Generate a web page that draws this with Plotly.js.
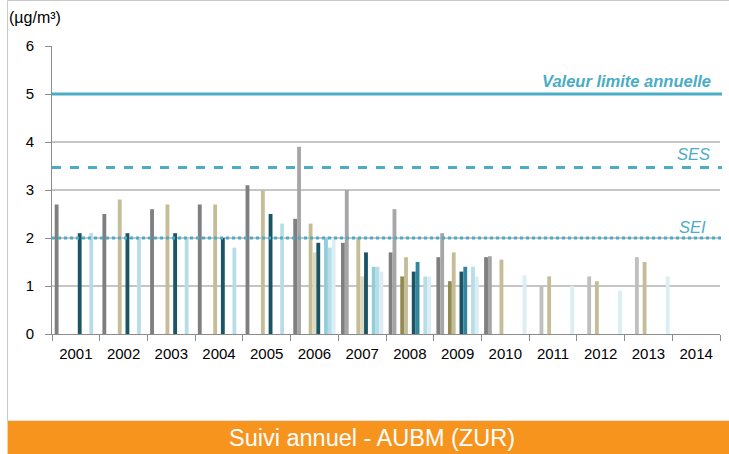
<!DOCTYPE html>
<html>
<head>
<meta charset="utf-8">
<script src="https://cdn.plot.ly/plotly-3.0.1.min.js"></script>
<style>
html,body{margin:0;padding:0;background:#fff;}
#chart{width:729px;height:454px;}
</style>
</head>
<body>
<div id="chart"></div>
<script>
// ---- data ----
const years = ['2001','2002','2003','2004','2005','2006','2007','2008','2009','2010','2011','2012','2013','2014'];
const s0  = [2.7, 2.5, 2.6, 2.7, 3.1, 2.4, 1.9, 1.7, 1.6, 1.6, null, null, null, null];
const s1  = [null, null, null, null, null, 3.9, 3.0, 2.6, 2.1, 1.62, null, null, null, null];
const s2  = [null, null, null, null, null, null, null, null, null, null, 1.0, 1.2, 1.6, null];
const s3  = [null, null, null, null, null, null, null, 1.2, 1.1, null, null, null, null, null];
const s4  = [null, 2.8, 2.7, 2.7, 3.0, 2.3, 2.0, 1.6, 1.7, 1.55, 1.2, 1.1, 1.5, null];
const s5  = [null, null, null, null, null, 1.7, 1.2, null, null, null, null, null, null, null];
const s6  = [2.1, 2.1, 2.1, 2.0, 2.5, 1.9, 1.7, 1.3, 1.3, null, null, null, null, null];
const s7  = [null, null, null, null, null, null, null, 1.5, 1.4, null, null, null, null, null];
const s8  = [null, null, null, null, null, 2.0, 1.4, null, null, null, null, null, null, null];
const s9  = [2.1, 2.0, 2.0, 1.8, 2.3, 1.8, 1.4, 1.2, 1.4, null, null, null, null, null];
const s10 = [null, null, null, null, null, 2.0, 1.3, 1.2, 1.2, 1.22, 1.0, 0.9, 1.2, null];
const seriesValues = [s0, s1, s2, s3, s4, s5, s6, s7, s8, s9, s10];
const seriesColors = ['#7f7f7f','#a6a6a6','#bfbfbf','#948a54','#c4bd97','#ddd9c3','#1a5566','#31859c','#92cddc','#b7dee8','#daeef3'];

const yTicks = [0, 1, 2, 3, 4, 5, 6];
const limitValues = [5, 3.47, 2.0];
const limitLabels = ['Valeur limite annuelle', 'SES', 'SEI'];
const limitDash = ['solid', 'dash', 'dot'];
const unitLabel = '(µg/m³)';
const bannerText = 'Suivi annuel - AUBM (ZUR)';

// ---- traces ----
const traces = seriesValues.map((vals, i) => ({
  type: 'bar',
  x: years,
  y: vals,
  marker: {color: seriesColors[i], line: {width: 0}},
  hoverinfo: 'x+y',
  showlegend: false
}));

const FONT = '"Liberation Sans", Arial, sans-serif';
const lineColor = '#4bacc6';
const shapes = [];
// gridlines (except top)
yTicks.slice(1, -1).forEach(v => shapes.push({
  type: 'line', xref: 'paper', yref: 'y', x0: 0, x1: 1, y0: v, y1: v,
  line: {color: '#8c8c8c', width: 1}, layer: 'below'
}));
// limit lines
limitValues.forEach((v, i) => shapes.push({
  type: 'line', xref: 'paper', yref: 'y', x0: 0, x1: 1.003, y0: v, y1: v,
  line: {color: lineColor, width: 3, dash: limitDash[i]}, layer: 'above'
}));
// chart border
shapes.push({type: 'rect', xref: 'paper', yref: 'paper', x0: -0.0665, x1: 1.02, y0: -0.302, y1: 1.158,
  line: {color: '#c8c8c8', width: 1}, fillcolor: 'rgba(0,0,0,0)', layer: 'below'});
// orange banner
shapes.push({type: 'rect', xref: 'paper', yref: 'paper', x0: -0.0665, x1: 1.02, y0: -0.4167, y1: -0.302,
  line: {width: 0}, fillcolor: '#f7941d', layer: 'below'});

const annotations = [
  {text: '<b><i>' + limitLabels[0] + '</i></b>', xref: 'paper', yref: 'y', x: 0.99, y: 5.27, xanchor: 'right', yanchor: 'middle', showarrow: false,
   font: {family: FONT, size: 16.5, color: lineColor}},
  {text: '<i>' + limitLabels[1] + '</i>', xref: 'paper', yref: 'y', x: 0.988, y: 3.74, xanchor: 'right', yanchor: 'middle', showarrow: false,
   font: {family: FONT, size: 16.5, color: lineColor}},
  {text: '<i>' + limitLabels[2] + '</i>', xref: 'paper', yref: 'y', x: 0.982, y: 2.22, xanchor: 'right', yanchor: 'middle', showarrow: false,
   font: {family: FONT, size: 16.5, color: lineColor}},
  {text: unitLabel, xref: 'paper', yref: 'paper', x: -0.068, y: 1.1, xanchor: 'left', yanchor: 'middle', showarrow: false,
   font: {family: FONT, size: 16, color: '#000'}},
  {text: bannerText, xref: 'paper', yref: 'paper', x: 0.479, y: -0.36, xanchor: 'center', yanchor: 'middle', showarrow: false,
   font: {family: FONT, size: 23.5, color: '#ffffff'}}
];

const layout = {
  width: 729, height: 454,
  margin: {l: 52, r: 9, t: 46, b: 120, pad: 0},
  paper_bgcolor: '#ffffff', plot_bgcolor: '#ffffff',
  barmode: 'group', bargap: 0.113, bargroupgap: 0,
  font: {family: FONT, size: 15, color: '#000'},
  xaxis: {
    type: 'category', range: [-0.5, 13.5], fixedrange: true,
    showline: true, linecolor: '#8c8c8c', linewidth: 1,
    ticks: 'outside', tickson: 'boundaries', ticklen: 6, tickcolor: '#8c8c8c',
    ticklabelstandoff: 6,
    showgrid: false, tickfont: {family: FONT, size: 15, color: '#000'}
  },
  yaxis: {
    range: [0, 6], tickvals: yTicks, ticktext: yTicks.map(String), fixedrange: true,
    showline: true, linecolor: '#8c8c8c', linewidth: 1,
    ticks: 'outside', ticklen: 6, tickcolor: '#8c8c8c',
    ticklabelstandoff: 8,
    showgrid: false, zeroline: false, tickfont: {family: FONT, size: 15, color: '#000'}
  },
  shapes: shapes,
  annotations: annotations
};

Plotly.newPlot('chart', traces, layout, {staticPlot: true, displayModeBar: false});
</script>
</body>
</html>
